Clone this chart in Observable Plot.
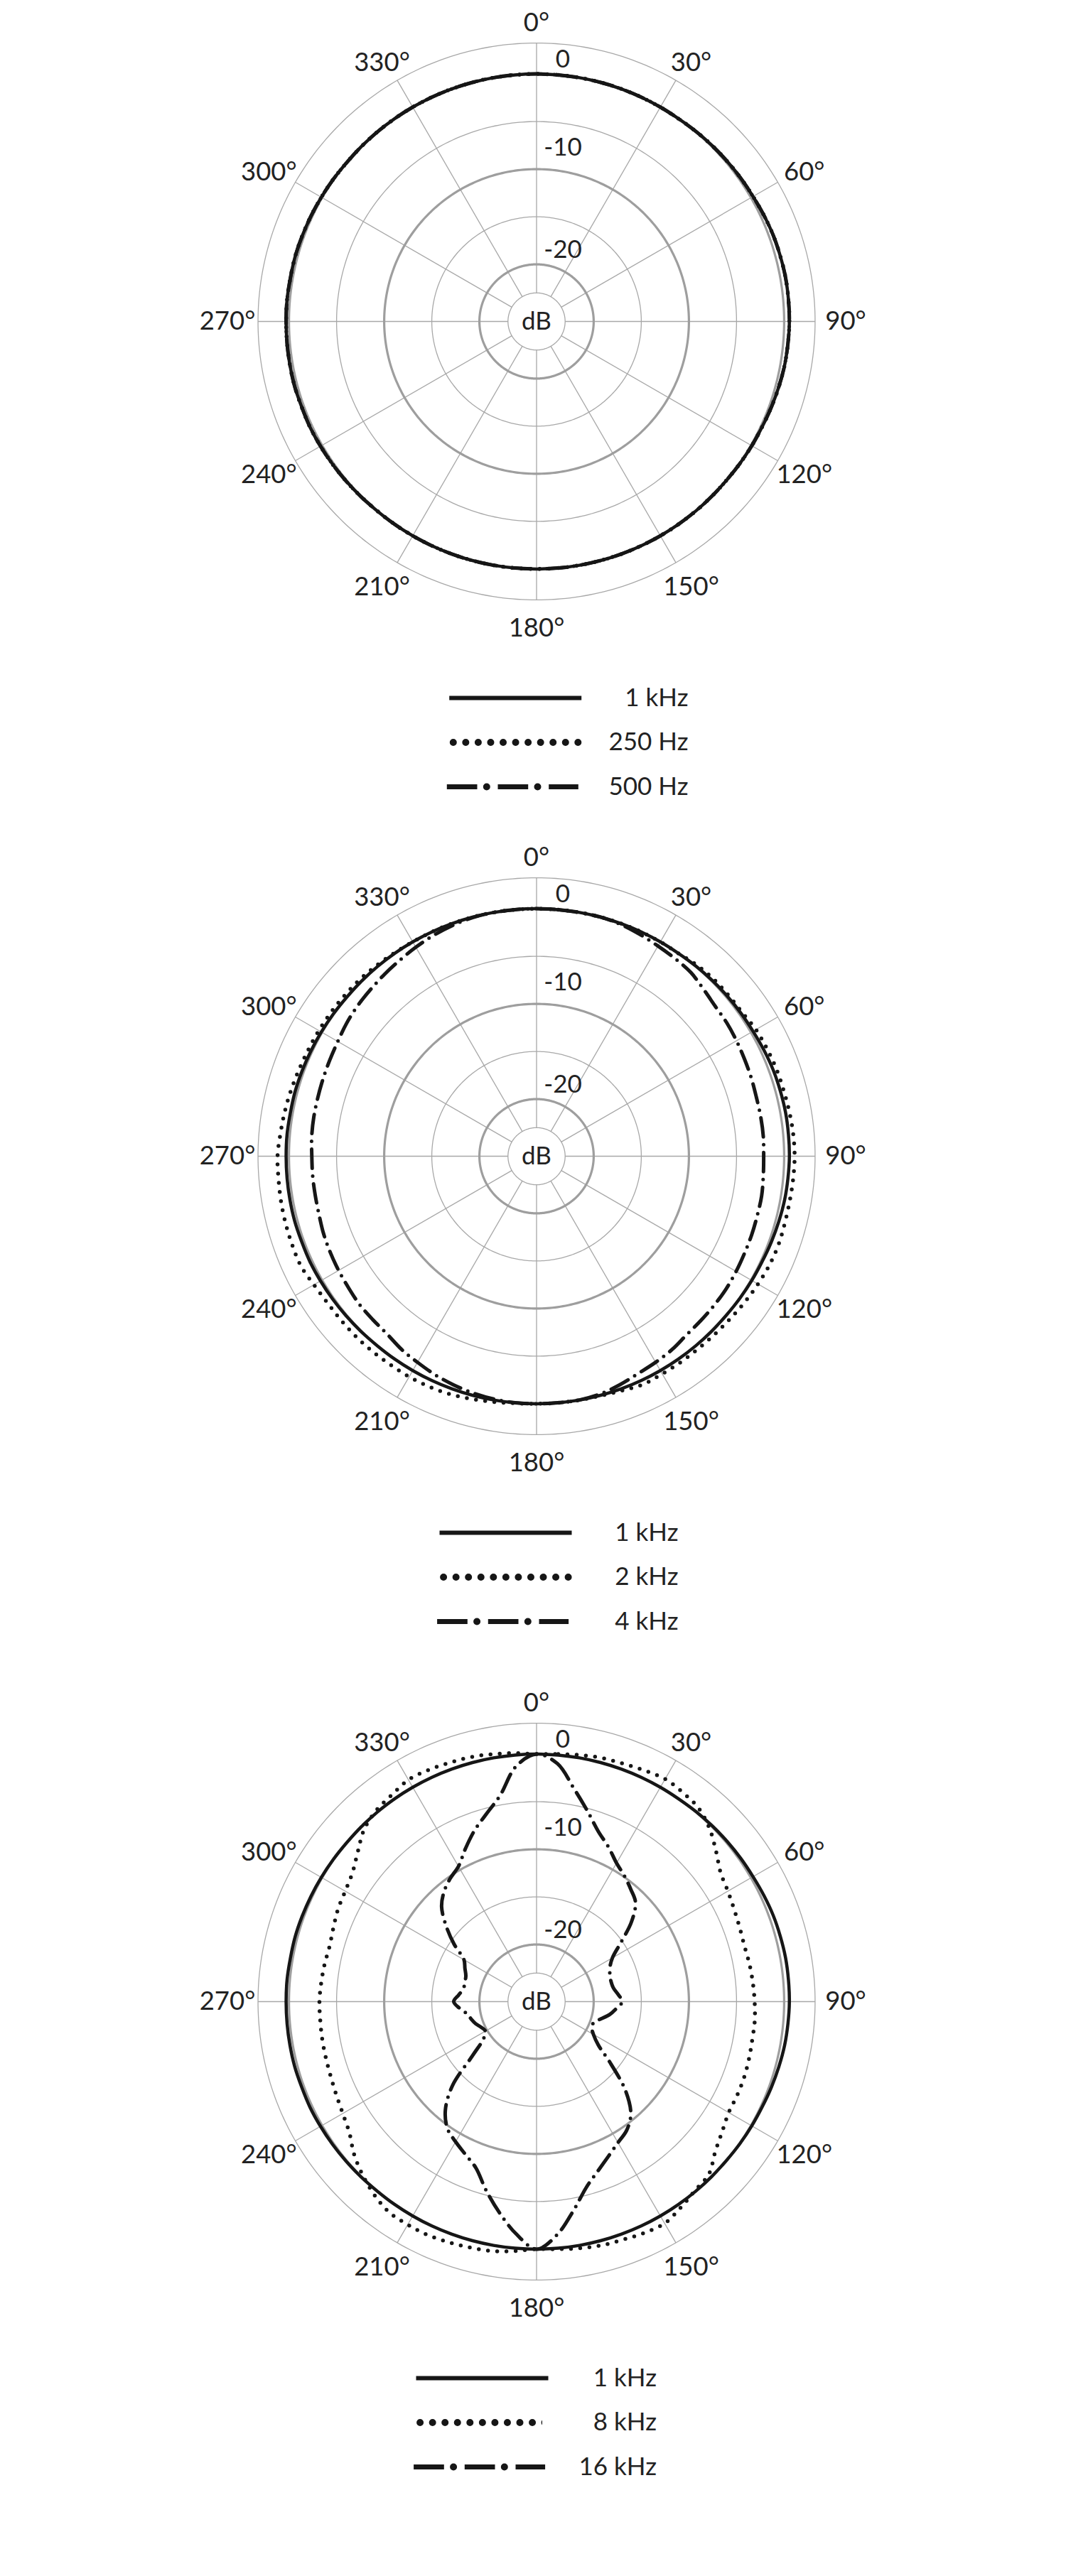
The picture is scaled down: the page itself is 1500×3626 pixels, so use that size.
<!DOCTYPE html>
<html>
<head>
<meta charset="utf-8">
<script src="https://cdn.jsdelivr.net/npm/d3@7"></script>
<script src="https://cdn.jsdelivr.net/npm/@observablehq/plot@0.6"></script>
<style>
  body { margin: 0; background: #fff; }
  #chart svg { display: block; }
</style>
</head>
<body>
<div id="chart"></div>
<script>
// ---------- data ----------
const angles = [0,5,10,15,20,25,30,35,40,45,50,55,60,65,70,75,80,85,90,95,100,105,110,115,120,125,130,135,140,145,150,155,160,165,170,175,
  180,185,190,195,200,205,210,215,220,225,230,235,240,245,250,255,260,265,270,275,280,285,290,295,300,305,310,315,320,325,330,335,340,345,350,355];

const khz1 = [0,0,0,0,0,0,0,0,0.05,0.1,0.15,0.2,0.25,0.35,0.45,0.5,0.55,0.55,0.55,0.5,0.45,0.35,0.25,0.15,0.1,0.05,0,0,0,0,0,0,0,0,0,0,
  0,0,0,0,0,0,0,0,0,0.05,0.1,0.15,0.2,0.25,0.25,0.3,0.3,0.3,0.3,0.3,0.25,0.25,0.2,0.15,0.1,0.05,0,0,0,0,0,0,0,0,0,0];
const hz250 = [0,0,0,0,0,0,0,0,0.05,0.1,0.15,0.2,0.25,0.35,0.45,0.5,0.55,0.55,0.55,0.5,0.45,0.35,0.25,0.15,0.1,0.05,0,0,0,0,0,0,0,0,0,0,
  0,0,0,0,0,0,0,0,0,0.05,0.1,0.15,0.2,0.25,0.25,0.3,0.3,0.3,0.3,0.3,0.25,0.25,0.2,0.15,0.1,0.05,0,0,0,0,0,0,0,0,0,0];
const hz500 = [0,0,0,0,0,0,0,0,0.05,0.1,0.15,0.2,0.25,0.35,0.45,0.5,0.55,0.55,0.55,0.5,0.45,0.35,0.25,0.15,0.1,0.05,0,0,0,0,0,0,0,0,0,0,
  0,0,0,0,0,0,0,0,0,0.05,0.1,0.15,0.2,0.25,0.25,0.3,0.3,0.3,0.3,0.3,0.25,0.25,0.2,0.15,0.1,0.05,0,0,0,0,0,0,0,0,0,0];
const khz2 = [0,0,0,0,0,0,0,0,0.2,0.3,0.3,0.35,0.6,0.7,0.8,0.85,0.95,1.05,1.1,1.05,1.0,1.0,1.05,1.0,0.85,0.7,0.55,0.45,0.4,0.4,0.4,0.45,0.2,0.05,0,0,
  0,0.05,0.2,0.4,0.6,0.7,0.75,0.75,0.78,0.8,0.8,0.82,1.0,1.3,1.3,1.28,1.25,1.2,1.2,1.0,0.85,0.7,0.55,0.45,0.4,0.35,0.3,0.25,0.15,0.05,0,0,0,0,0,0];
const khz4 = [0,0,0,0,-0.1,-0.3,-0.5,-0.65,-0.8,-1.2,-1.5,-1.6,-1.75,-1.9,-2.0,-2.1,-2.1,-2.1,-2.15,-2.1,-2.0,-2.0,-1.95,-1.9,-1.8,-1.7,-1.65,-1.6,-1.5,-1.2,-1.0,-0.8,-0.45,-0.15,0,0,
  0,0,-0.1,-0.25,-0.45,-0.7,-1.0,-1.25,-1.6,-1.7,-1.75,-1.9,-2.0,-2.1,-2.2,-2.35,-2.4,-2.4,-2.4,-2.3,-2.25,-2.22,-2.15,-2.05,-1.9,-1.65,-1.45,-1.3,-1.1,-0.9,-0.65,-0.4,-0.2,-0.05,0,0];
const khz8 = [0,0.1,0.3,0.5,0.6,0.8,1.0,0.8,0.5,-0.3,-1.4,-2.4,-2.8,-3.1,-3.3,-3.4,-3.3,-3.2,-3.1,-3.0,-3.0,-2.9,-2.8,-2.75,-2.7,-2.2,-1.5,-0.4,-0.1,0.4,0.9,0.8,0.6,0.5,0.3,0.1,
  0,0.3,0.6,0.75,0.9,1.05,1.05,1.0,0.5,-0.2,-1.0,-2.0,-2.5,-2.8,-3.0,-3.1,-3.15,-3.2,-3.2,-3.3,-3.4,-3.5,-3.3,-3.0,-2.8,-2.4,-1.5,-0.4,0.2,0.5,0.9,0.85,0.7,0.6,0.4,0.2];
const khz16 = [0,-0.9,-3.3,-5.3,-7.0,-8.1,-9.2,-9.9,-10.6,-11.3,-13.0,-15.2,-16.8,-17.5,-17.8,-17.9,-17.8,-17.4,-17.0,-17.6,-18.2,-19.0,-19.6,-19.6,-19.1,-18.1,-15.8,-12.8,-10.6,-9.5,-8.9,-8.1,-7.1,-5.8,-3.7,-1.4,
  0,-1.5,-3.5,-5.5,-7.4,-8.3,-9.0,-9.7,-11.1,-13.5,-17.3,-19.2,-19.8,-19.6,-19.2,-18.9,-18.6,-17.9,-17.3,-17.8,-18.2,-18.2,-18.1,-17.7,-17.2,-15.4,-13.6,-11.9,-10.9,-10.2,-9.6,-8.3,-6.9,-5.6,-4.0,-1.2];

const angleTicks = [0,30,60,90,120,150,180,210,240,270,300,330];
const dbTicks = [0,-10,-20];
const thickRings = [0,-10,-20];
const thinRings = [-5,-15];

// ---------- geometry ----------
const DB_CENTER = -26;     // level at the pole
const PX_PER_DB = 13.4;
const OUTER_DB = 3.25;
const INNER_DB = -23;
const CX = 754.5, CY = 452, W = 1500;
const u = px => px / PX_PER_DB;
const LABEL_RX = u(435), LABEL_RY_TOP = u(420), LABEL_RY_BOTTOM = u(432);

function polar(a, db) {
  const r = db - DB_CENTER, t = a * Math.PI / 180;
  return {x: r * Math.sin(t), y: r * Math.cos(t)};
}
function ring(db, kind) {
  const out = [];
  for (let a = 0; a < 360; a += 1) out.push({db, kind, ...polar(a, db)});
  return out;
}

const panels = [
  {height: 1175, legendLeft: 631.7, legendRight: 968,
   series: [{name: "1 kHz", values: khz1, style: "solid"}, {name: "250 Hz", values: hz250, style: "dot"}, {name: "500 Hz", values: hz500, style: "dashdot"}]},
  {height: 1190, legendLeft: 618, legendRight: 954,
   series: [{name: "1 kHz", values: khz1, style: "solid"}, {name: "2 kHz", values: khz2, style: "dot"}, {name: "4 kHz", values: khz4, style: "dashdot"}]},
  {height: 1261, legendLeft: 585, legendRight: 923.5,
   series: [{name: "1 kHz", values: khz1, style: "solid"}, {name: "8 kHz", values: khz8, style: "dot"}, {name: "16 kHz", values: khz16, style: "dashdot"}]}
];

const INK = "#161616";
const TEXT = "#222";
const FONT = "Lato, 'Noto Sans', sans-serif";

function makePanel(p) {
  const H = p.height;
  const curves = [];
  for (const s of p.series) s.values.forEach((v, i) => curves.push({name: s.name, style: s.style, ...polar(angles[i], v)}));
  const thick = thickRings.flatMap(d => ring(d, "thick"));
  const thin = [...thinRings.map(d => ring(d, "thin")), ring(OUTER_DB, "outer"), ring(INNER_DB, "inner")].flat();
  const spokes = angleTicks.map(a => {
    const p0 = polar(a, INNER_DB), p1 = polar(a, OUTER_DB);
    return {a, x1: p0.x, y1: p0.y, x2: p1.x, y2: p1.y};
  });
  const aLabels = angleTicks.map(a => {
    const t = a * Math.PI / 180, c = Math.cos(t);
    return {text: a + "°", x: LABEL_RX * Math.sin(t), y: (c > 0 ? LABEL_RY_TOP : LABEL_RY_BOTTOM) * c};
  });
  const legend = p.series.map((s, i) => ({...s, y: -u(530 + 62.5 * i)}));
  const Lx = u(p.legendLeft - CX);
  const byStyle = st => curves.filter(d => d.style === st);

  return Plot.plot({
    width: W, height: H,
    marginTop: 0, marginRight: 0, marginBottom: 0, marginLeft: 0,
    x: {domain: [-u(CX), u(W - CX)], axis: null},
    y: {domain: [-u(H - CY), u(CY)], axis: null},
    style: {fontFamily: FONT, background: "#fff"},
    marks: [
      Plot.line(thin, {x: "x", y: "y", z: "db", curve: "linear-closed", stroke: "#a8a8a8", strokeWidth: 1.3}),
      Plot.link(spokes, {x1: "x1", y1: "y1", x2: "x2", y2: "y2", stroke: "#a8a8a8", strokeWidth: 1.3}),
      Plot.line(thick, {x: "x", y: "y", z: "db", curve: "linear-closed", stroke: "#9e9e9e", strokeWidth: 3.2}),
      Plot.text(aLabels, {x: "x", y: "y", text: "text", fontSize: 36.5, fill: TEXT}),
      Plot.text(dbTicks, {x: u(37), y: d => d - DB_CENTER + u(d === -10 ? 30 : 20), text: d => String(d), fontSize: 35, fill: TEXT}),
      Plot.text(["dB"], {x: 0, y: 0, text: d => d, fontSize: 35, fill: TEXT}),
      // curves
      Plot.line(byStyle("dot"), {x: "x", y: "y", z: "name", curve: "catmull-rom-closed", stroke: INK, strokeWidth: 5.5, strokeLinecap: "round", strokeDasharray: "0,13"}),
      Plot.line(byStyle("dashdot"), {x: "x", y: "y", z: "name", curve: "catmull-rom-closed", stroke: INK, strokeWidth: 5, strokeLinecap: "round", strokeDasharray: "27,11,0,11"}),
      Plot.line(byStyle("solid"), {x: "x", y: "y", z: "name", curve: "catmull-rom-closed", stroke: INK, strokeWidth: 4.5}),
      // legend
      Plot.link(legend.filter(d => d.style === "solid"), {x1: Lx, x2: Lx + u(186), y1: "y", y2: "y", stroke: INK, strokeWidth: 6}),
      Plot.link(legend.filter(d => d.style === "dot"), {x1: Lx + u(5.6), x2: Lx + u(181.1), y1: "y", y2: "y", stroke: INK, strokeWidth: 10, strokeLinecap: "round", strokeDasharray: "0,17.55"}),
      Plot.link(legend.filter(d => d.style === "dashdot"), {x1: Lx - u(3.4), x2: Lx + u(181.6), y1: "y", y2: "y", stroke: INK, strokeWidth: 7, strokeDasharray: "42.7,29"}),
      Plot.link(legend.filter(d => d.style === "dashdot"), {x1: Lx - u(3.4), x2: Lx + u(181.6), y1: "y", y2: "y", stroke: INK, strokeWidth: 10, strokeLinecap: "round", strokeDasharray: "0,71.7", strokeDashoffset: 15.7}),
      Plot.text(legend, {x: u(p.legendRight - CX), y: "y", text: "name", textAnchor: "end", fontSize: 35, fill: TEXT})
    ]
  });
}

const root = document.getElementById("chart");
for (const p of panels) root.appendChild(makePanel(p));
</script>
</body>
</html>
